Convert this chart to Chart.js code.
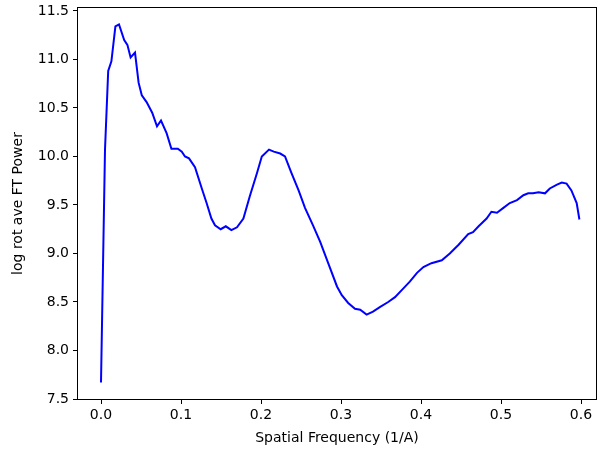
<!DOCTYPE html>
<html lang="en">

<head>
    <meta charset="UTF-8">
    <title>rot ave FT power</title>
    <script src="https://cdn.jsdelivr.net/npm/chart.js"></script>
    <style>
        html, body { margin: 0; padding: 0; background: #fff; }
        #wrap { width: 598px; height: 450px; }
    </style>
</head>

<body>
    <div id="wrap">
        <canvas id="myChart" width="598" height="450"></canvas>
    </div>

    <script>
        // spatial frequency (1/A)
        const freqs = [
            0.000, 0.005, 0.009, 0.013, 0.018, 0.0225, 0.029, 0.033, 0.037, 0.0425,
            0.047, 0.051, 0.057, 0.064, 0.070, 0.075, 0.082, 0.088, 0.096, 0.101,
            0.105, 0.110, 0.1175, 0.126, 0.132, 0.138, 0.1425, 0.1496, 0.156, 0.163,
            0.170, 0.178, 0.186, 0.195, 0.201, 0.210, 0.216, 0.224, 0.230, 0.238,
            0.247, 0.255, 0.265, 0.274, 0.284, 0.295, 0.301, 0.309, 0.3175, 0.324,
            0.332, 0.340, 0.349, 0.359, 0.3675, 0.378, 0.386, 0.395, 0.403, 0.413,
            0.426, 0.436, 0.447, 0.459, 0.465, 0.472, 0.482, 0.488, 0.495, 0.503,
            0.511, 0.520, 0.528, 0.534, 0.540, 0.547, 0.555, 0.561, 0.570, 0.576,
            0.582, 0.588, 0.5946, 0.598
        ];
        // log rot ave FT power
        const power = [
            7.67, 10.07, 10.88, 10.98, 11.34, 11.36, 11.20, 11.15, 11.02, 11.07,
            10.76, 10.63, 10.56, 10.45, 10.31, 10.37, 10.24, 10.08, 10.08, 10.05,
            10.00, 9.98, 9.89, 9.67, 9.52, 9.36, 9.29, 9.25, 9.28, 9.24,
            9.27, 9.36, 9.59, 9.83, 10.00, 10.07, 10.05, 10.03, 10.00, 9.83,
            9.65, 9.47, 9.29, 9.12, 8.90, 8.66, 8.57, 8.49, 8.43, 8.42,
            8.37, 8.40, 8.45, 8.50, 8.55, 8.64, 8.71, 8.80, 8.86, 8.90,
            8.93, 9.00, 9.09, 9.20, 9.22, 9.28, 9.36, 9.43, 9.42, 9.47,
            9.52, 9.55, 9.60, 9.62, 9.62, 9.63, 9.62, 9.67, 9.71, 9.73,
            9.72, 9.65, 9.52, 9.35
        ];
        const xTicks = [0.0, 0.1, 0.2, 0.3, 0.4, 0.5, 0.6];
        const yTicks = [7.5, 8.0, 8.5, 9.0, 9.5, 10.0, 10.5, 11.0, 11.5];

        const font = { family: "'DejaVu Sans', sans-serif", size: 14 };

        // box around the plot area, like matplotlib spines
        const frame = {
            id: 'frame',
            afterDatasetsDraw(chart) {
                const a = chart.chartArea;
                const c = chart.ctx;
                c.save();
                c.strokeStyle = '#000';
                c.lineWidth = 1;
                c.strokeRect(a.left + 0.5, a.top + 0.5, a.right - a.left - 1, a.bottom - a.top - 1);
                c.restore();
            }
        };

        const ctx = document.getElementById('myChart');

        new Chart(ctx, {
            type: 'scatter',
            data: {
                datasets: [{
                    data: freqs.map((f, i) => ({ x: f, y: power[i] })),
                    showLine: true,
                    borderColor: '#0000ff',
                    borderWidth: 2,
                    pointRadius: 0,
                    tension: 0
                }]
            },
            options: {
                responsive: false,
                animation: false,
                layout: { padding: { top: 7, right: 1, left: 0, bottom: 0 } },
                plugins: { legend: { display: false }, tooltip: { enabled: false } },
                scales: {
                    x: {
                        type: 'linear',
                        min: -0.03,
                        max: 0.62,
                        afterBuildTicks: (s) => { s.ticks = xTicks.map(v => ({ value: v })); },
                        afterFit: (s) => { s.height = 50; s.paddingLeft = 0; s.paddingRight = 0; },
                        ticks: {
                            color: '#000',
                            font: font,
                            padding: 3,
                            maxRotation: 0,
                            callback: (v) => v.toFixed(1)
                        },
                        grid: { display: true, drawOnChartArea: false, drawTicks: true, tickLength: 4, color: '#000' },
                        border: { display: false },
                        title: {
                            display: true,
                            text: 'Spatial Frequency (1/A)',
                            color: '#000',
                            font: font,
                            padding: { top: 0, bottom: 3 }
                        }
                    },
                    y: {
                        type: 'linear',
                        min: 7.49,
                        max: 11.54,
                        afterBuildTicks: (s) => { s.ticks = yTicks.map(v => ({ value: v })); },
                        afterFit: (s) => { s.width = 77; s.paddingTop = 0; s.paddingBottom = 0; },
                        ticks: {
                            color: '#000',
                            font: font,
                            padding: 4,
                            callback: (v) => v.toFixed(1)
                        },
                        grid: { display: true, drawOnChartArea: false, drawTicks: true, tickLength: 4, color: '#000' },
                        border: { display: false },
                        title: {
                            display: true,
                            text: 'log rot ave FT Power',
                            color: '#000',
                            font: font,
                            padding: { top: 10, bottom: 0 }
                        }
                    }
                }
            },
            plugins: [frame]
        });
    </script>
</body>

</html>
